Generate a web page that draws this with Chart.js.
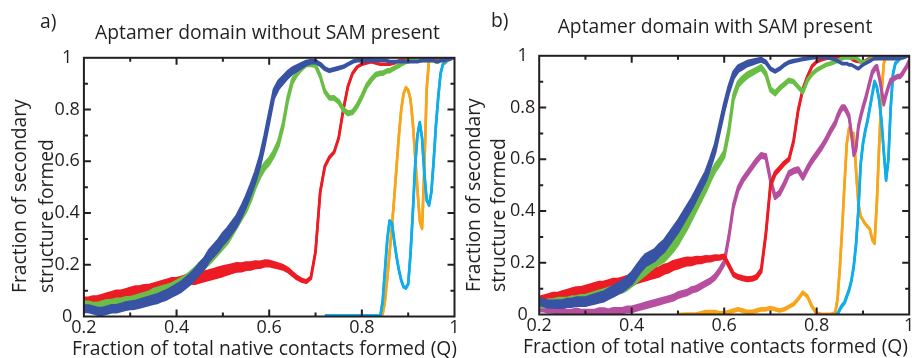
<!DOCTYPE html>
<html>
<head>
<meta charset="utf-8">
<script src="https://cdn.jsdelivr.net/npm/chart.js@4.4.1/dist/chart.umd.min.js"></script>
<style>
  html, body { margin: 0; padding: 0; background: #fff; }
  #wrap { position: relative; width: 912px; height: 358px; overflow: hidden;
          font-family: "Open Sans", sans-serif; color: #231f20; }
  canvas { position: absolute; top: 0; }
  #chartA { left: 0; }
  #chartB { left: 456px; }
  .lbl { position: absolute; font-size: 19.3px; line-height: 19px; white-space: nowrap; }
  .center { transform: translateX(-50%); }
  .ytitle { transform-origin: 0 0; transform: rotate(-90deg); }
</style>
</head>
<body>
<div id="wrap">
  <canvas id="chartA" width="470" height="358"></canvas>
  <canvas id="chartB" width="456" height="358"></canvas>

  <div class="lbl" style="left:40px; top:11px">a)</div>
  <div class="lbl center" style="left:267.5px; top:22.4px">Aptamer domain without SAM present</div>
  <div class="lbl ytitle" style="left:5.9px; top:293.3px; line-height:26.5px">Fraction of secondary<br>structure formed</div>
  <div class="lbl center" style="left:264.5px; top:338px">Fraction of total native contacts formed (Q)</div>

  <div class="lbl" style="left:491px; top:10px">b)</div>
  <div class="lbl center" style="left:715px; top:16.4px">Aptamer domain with SAM present</div>
  <div class="lbl ytitle" style="left:460px; top:292px; line-height:25px">Fraction of secondary<br>structure formed</div>
  <div class="lbl center" style="left:715.5px; top:336.4px">Fraction of total native contacts formed (Q)</div>
</div>

<script>
// Q grid: 0.20..0.84 every 0.01, then 0.845..1.00 every 0.005
const qGrid = [];
for (let i = 20; i <= 84; i++) qGrid.push(i / 100);
for (let i = 1690; i <= 2000; i += 10) qGrid.push(i / 2000);

// ---- panel a) without SAM ----
const aBlue = [
  0.03, 0.03, 0.025, 0.02, 0.02, 0.025, 0.03, 0.03, 0.035, 0.04,
  0.043, 0.045, 0.05, 0.055, 0.06, 0.065, 0.07, 0.078, 0.085, 0.095,
  0.105, 0.115, 0.13, 0.145, 0.165, 0.185, 0.205, 0.235, 0.255, 0.275,
  0.30, 0.32, 0.345, 0.37, 0.405, 0.445, 0.49, 0.54, 0.60, 0.68,
  0.77, 0.86, 0.895, 0.915, 0.935, 0.95, 0.96, 0.97, 0.98, 0.985,
  0.985, 0.975, 0.958, 0.95, 0.955, 0.96, 0.965, 0.975, 0.985, 0.99,
  0.99, 0.99, 0.99, 0.99, 0.99,
  0.99, 0.99, 0.988, 0.985, 0.985, 0.985, 0.985, 0.985, 0.985, 0.985, 0.985, 0.985,
  0.985, 0.985, 0.985, 0.985, 0.988, 0.99, 0.99, 0.99, 0.99, 0.99,
  0.99, 0.985, 0.985, 0.99, 0.99, 0.99, 0.995, 0.995, 1, 1
];
const aGreen = [
  0.045, 0.045, 0.04, 0.04, 0.045, 0.05, 0.05, 0.055, 0.055, 0.06,
  0.06, 0.065, 0.07, 0.075, 0.08, 0.09, 0.095, 0.10, 0.105, 0.11,
  0.12, 0.13, 0.14, 0.155, 0.17, 0.19, 0.205, 0.22, 0.24, 0.26,
  0.28, 0.30, 0.33, 0.36, 0.39, 0.42, 0.46, 0.51, 0.55, 0.58,
  0.60, 0.63, 0.67, 0.74, 0.84, 0.91, 0.94, 0.96, 0.975, 0.975,
  0.97, 0.93, 0.87, 0.845, 0.845, 0.83, 0.80, 0.785, 0.79, 0.815,
  0.85, 0.89, 0.915, 0.935, 0.94,
  0.94, 0.945, 0.95, 0.95, 0.955, 0.96, 0.965, 0.97, 0.975, 0.98, 0.985, 0.985,
  0.99, 0.99, 0.99, 0.99, 0.99, 0.99, 0.99, 0.99, 0.99, 0.99,
  0.99, 0.985, 0.985, 0.99, 0.99, 0.99, 0.995, 0.995, 1, 1
];
const aRed = [
  0.06, 0.06, 0.065, 0.065, 0.07, 0.075, 0.08, 0.085, 0.085, 0.09,
  0.095, 0.10, 0.10, 0.105, 0.105, 0.11, 0.115, 0.12, 0.125, 0.13,
  0.13, 0.135, 0.14, 0.145, 0.145, 0.15, 0.155, 0.16, 0.165, 0.17,
  0.175, 0.18, 0.185, 0.19, 0.19, 0.195, 0.195, 0.20, 0.20, 0.205,
  0.205, 0.20, 0.195, 0.19, 0.18, 0.165, 0.15, 0.14, 0.135, 0.15,
  0.25, 0.48, 0.58, 0.615, 0.635, 0.69, 0.80, 0.89, 0.94, 0.965,
  0.975, 0.98, 0.985, 0.98, 0.975,
  0.975, 0.975, 0.975, 0.975, 0.978, 0.98, 0.985, 0.988, 0.99, 0.99, 0.99, 0.99,
  0.99, 0.99, 0.99, 0.99, 0.99, 0.99, 0.99, 0.99, 0.99, 0.99,
  0.99, 0.99, 0.99, 0.99, 0.99, 0.99, 0.995, 0.995, 1, 1
];
const aOrange = [
  null, null, null, null, null, null, null, null, null, null,
  null, null, null, null, null, null, null, null, null, null,
  null, null, null, null, null, null, null, null, null, null,
  null, null, null, null, null, null, null, null, null, null,
  null, null, null, null, null, null, null, null, null, null,
  null, null, null, null, null, null, null, null, null, null,
  null, null, null, null, 0,
  0.01, 0.06, 0.15, 0.25, 0.35, 0.46, 0.58, 0.70, 0.80, 0.86, 0.885, 0.875,
  0.84, 0.75, 0.62, 0.49, 0.37, 0.34, 0.58, 0.88, 0.99, 1,
  1, 1, 1, 1, 0.99, 0.98, 0.99, 0.995, 1, 1
];
const aCyan = [
  null, null, null, null, null, null, null, null, null, null,
  null, null, null, null, null, null, null, null, null, null,
  null, null, null, null, null, null, null, null, null, null,
  null, null, null, null, null, null, null, null, null, null,
  null, null, null, null, null, null, null, null, null, null,
  null, null, 0.003, 0.003, 0.003, 0.003, 0.003, 0.003, 0.003, 0.003,
  0.003, 0.003, 0.003, 0.003, 0.003,
  0.06, 0.18, 0.30, 0.37, 0.36, 0.29, 0.23, 0.18, 0.14, 0.115, 0.11, 0.125,
  0.24, 0.40, 0.58, 0.70, 0.75, 0.69, 0.55, 0.45, 0.43, 0.48,
  0.60, 0.74, 0.85, 0.94, 0.975, 0.985, 0.99, 0.995, 1, 1
];

// ---- panel b) with SAM ----
const bBlue = [
  0.05, 0.045, 0.04, 0.04, 0.04, 0.04, 0.045, 0.045, 0.05, 0.05,
  0.05, 0.055, 0.06, 0.065, 0.07, 0.08, 0.09, 0.10, 0.11, 0.125,
  0.14, 0.165, 0.19, 0.21, 0.22, 0.23, 0.25, 0.265, 0.29, 0.315,
  0.34, 0.37, 0.40, 0.43, 0.465, 0.50, 0.535, 0.585, 0.64, 0.72,
  0.80, 0.87, 0.925, 0.95, 0.96, 0.97, 0.975, 0.98, 0.985, 0.975,
  0.95, 0.94, 0.95, 0.965, 0.975, 0.98, 0.983, 0.987, 0.99, 0.993,
  0.995, 0.995, 0.995, 0.99, 0.985,
  0.98, 0.975, 0.97, 0.97, 0.97, 0.965, 0.965, 0.96, 0.955, 0.95, 0.958, 0.965,
  0.97, 0.975, 0.98, 0.985, 0.99, 0.99, 0.99, 0.99, 0.99, 0.99,
  0.99, 0.99, 0.99, 0.99, 0.99, 0.99, 0.995, 0.995, 1, 1
];
const bGreen = [
  0.04, 0.04, 0.045, 0.045, 0.05, 0.05, 0.05, 0.055, 0.055, 0.06,
  0.06, 0.065, 0.07, 0.075, 0.08, 0.085, 0.09, 0.10, 0.105, 0.115,
  0.13, 0.145, 0.16, 0.175, 0.19, 0.205, 0.215, 0.225, 0.245, 0.265,
  0.29, 0.32, 0.35, 0.385, 0.42, 0.455, 0.49, 0.53, 0.565, 0.59,
  0.62, 0.71, 0.84, 0.89, 0.91, 0.925, 0.935, 0.945, 0.955, 0.93,
  0.87, 0.855, 0.875, 0.89, 0.905, 0.90, 0.88, 0.86, 0.905, 0.93,
  0.945, 0.955, 0.965, 0.97, 0.977,
  0.98, 0.985, 0.99, 0.993, 0.993, 0.993, 0.993, 0.993, 0.993, 0.985, 0.978, 0.975,
  0.978, 0.98, 0.985, 0.99, 0.99, 0.99, 0.99, 0.99, 0.99, 0.99,
  0.99, 0.99, 0.99, 0.99, 0.99, 0.99, 0.995, 0.995, 1, 1
];
const bRed = [
  0.055, 0.06, 0.065, 0.07, 0.07, 0.075, 0.08, 0.085, 0.09, 0.09,
  0.095, 0.10, 0.105, 0.11, 0.11, 0.115, 0.12, 0.12, 0.125, 0.13,
  0.13, 0.14, 0.145, 0.15, 0.155, 0.16, 0.165, 0.175, 0.18, 0.19,
  0.195, 0.20, 0.205, 0.205, 0.21, 0.21, 0.215, 0.215, 0.22, 0.22,
  0.225, 0.19, 0.155, 0.145, 0.14, 0.136, 0.138, 0.145, 0.17, 0.31,
  0.50, 0.545, 0.565, 0.585, 0.60, 0.67, 0.79, 0.87, 0.92, 0.96,
  0.977, 0.985, 0.99, 0.993, 0.993,
  0.995, 0.995, 0.995, 0.995, 0.995, 0.995, 0.99, 0.983, 0.98, 0.978, 0.977, 0.977,
  0.98, 0.985, 0.99, 0.99, 0.99, 0.99, 0.99, 0.99, 0.99, 0.99,
  0.99, 0.99, 0.99, 0.99, 0.99, 0.99, 0.995, 0.995, 1, 1
];
const bMagenta = [
  0.02, 0.02, 0.015, 0.015, 0.01, 0.015, 0.01, 0.01, 0.015, 0.01,
  0.01, 0.01, 0.01, 0.015, 0.015, 0.01, 0.015, 0.015, 0.015, 0.02,
  0.02, 0.025, 0.03, 0.035, 0.04, 0.045, 0.05, 0.055, 0.06, 0.065,
  0.075, 0.08, 0.085, 0.095, 0.10, 0.11, 0.12, 0.13, 0.145, 0.17,
  0.20, 0.30, 0.42, 0.485, 0.52, 0.545, 0.57, 0.595, 0.615, 0.61,
  0.52, 0.455, 0.47, 0.505, 0.545, 0.555, 0.56, 0.53, 0.565, 0.595,
  0.62, 0.645, 0.675, 0.71, 0.74,
  0.765, 0.785, 0.80, 0.80, 0.785, 0.765, 0.70, 0.62, 0.64, 0.725, 0.765, 0.80,
  0.83, 0.865, 0.90, 0.935, 0.95, 0.958, 0.92, 0.87, 0.815, 0.85,
  0.88, 0.905, 0.91, 0.915, 0.92, 0.92, 0.93, 0.945, 0.96, 0.98
];
const bOrange = [
  null, null, null, null, null, null, null, null, null, null,
  null, null, null, null, null, null, null, null, null, null,
  null, null, null, null, null, null, null, null, null, null,
  0, 0, 0, 0, 0, 0.005, 0.01, 0.01, 0.01, 0.005,
  0.005, 0.01, 0.015, 0.02, 0.015, 0.01, 0.01, 0.015, 0.02, 0.02,
  0.025, 0.02, 0.015, 0.02, 0.03, 0.04, 0.06, 0.085, 0.07, 0.03,
  0.005, 0, 0, 0, 0.005,
  0.06, 0.18, 0.33, 0.50, 0.66, 0.72, 0.70, 0.70, 0.56, 0.43, 0.38, 0.365,
  0.35, 0.34, 0.33, 0.29, 0.275, 0.43, 0.65, 0.85, 0.97, 1,
  1, 1, 1, 1, 1, 1, 1, 1, 1, 1
];
const bCyan = [
  null, null, null, null, null, null, null, null, null, null,
  null, null, null, null, null, null, null, null, null, null,
  null, null, null, null, null, null, null, null, null, null,
  null, null, null, null, null, null, null, null, null, null,
  null, null, null, null, null, null, null, null, null, null,
  null, null, null, null, null, null, null, null, null, null,
  null, null, null, null, 0,
  0, 0.02, 0.035, 0.045, 0.07, 0.095, 0.13, 0.185, 0.27, 0.40, 0.58, 0.66,
  0.71, 0.75, 0.80, 0.85, 0.90, 0.88, 0.83, 0.75, 0.63, 0.52,
  0.60, 0.80, 0.93, 0.97, 0.98, 0.99, 0.99, 0.995, 1, 1
];

// half-width of the noisy trace, at Q = 0.2, 0.3, ... 1.0
const aBlueNoise   = [0.012, 0.014, 0.018, 0.022, 0.018, 0.005, 0.003, 0.002, 0.002];
const aGreenNoise  = [0.012, 0.014, 0.018, 0.018, 0.012, 0.005, 0.007, 0.004, 0.002];
const aRedNoise    = [0.012, 0.015, 0.018, 0.018, 0.01, 0.003, 0.002, 0.002, 0.002];
const aOrangeNoise = [0.002, 0.002, 0.002, 0.002, 0.002, 0.002, 0.002, 0.002, 0.002];
const aCyanNoise   = [0.002, 0.002, 0.002, 0.002, 0.002, 0.002, 0.002, 0.002, 0.002];
const bBlueNoise   = [0.012, 0.016, 0.022, 0.022, 0.015, 0.004, 0.003, 0.002, 0.002];
const bGreenNoise  = [0.012, 0.015, 0.02, 0.02, 0.012, 0.007, 0.004, 0.003, 0.002];
const bRedNoise    = [0.012, 0.015, 0.018, 0.016, 0.006, 0.007, 0.002, 0.002, 0.002];
const bMagentaNoise= [0.007, 0.007, 0.01, 0.01, 0.008, 0.008, 0.008, 0.007, 0.005];
const bOrangeNoise = [0.003, 0.003, 0.003, 0.003, 0.004, 0.004, 0.003, 0.002, 0.002];
const bCyanNoise   = [0.002, 0.002, 0.002, 0.002, 0.002, 0.002, 0.002, 0.004, 0.002];

const COLORS = {
    red: '#ed1c24',
    green: '#6abd45',
    blue: '#3953a4',
    orange: '#f9a51a',
    cyan: '#0fadea',
    magenta: '#b64f9f'
};
const TEXT = '#231f20';
Chart.defaults.font.family = '"Open Sans", sans-serif';

function noiseAt(noise, q) {
    const t = (q - 0.2) / 0.1;
    const i = Math.max(0, Math.min(Math.floor(t), noise.length - 2));
    const f = t - i;
    return noise[i] * (1 - f) + noise[i + 1] * f;
}

// each trace is drawn as a filled band (lower edge + upper edge)
function band(values, noise, color, order) {
    const lo = [], hi = [];
    qGrid.forEach((q, i) => {
        const v = values[i];
        const s = noiseAt(noise, q);
        lo.push({ x: q, y: v === null ? null : v - s });
        hi.push({ x: q, y: v === null ? null : v + s });
    });
    const base = {
        borderColor: color,
        backgroundColor: color,
        borderWidth: 2.6,
        borderJoinStyle: 'round',
        pointRadius: 0,
        tension: 0,
        order
    };
    return [
        { ...base, data: lo, fill: false },
        { ...base, data: hi, fill: '-1' }
    ];
}

// frame with inward ticks on all four sides
const frameTicks = {
    id: 'frameTicks',
    afterDatasetsDraw(chart) {
        const { ctx, chartArea: a, scales: { x, y } } = chart;
        ctx.save();
        ctx.strokeStyle = TEXT;
        ctx.lineWidth = 2;
        ctx.beginPath();
        for (let i = 1; i < 8; i++) {
            const px = x.getPixelForValue(0.2 + i * 0.1);
            const len = i % 2 === 0 ? 7 : 4;
            ctx.moveTo(px, a.bottom); ctx.lineTo(px, a.bottom - len);
            ctx.moveTo(px, a.top); ctx.lineTo(px, a.top + len);
        }
        for (let i = 1; i < 10; i++) {
            const py = y.getPixelForValue(i * 0.1);
            const len = i % 2 === 0 ? 7 : 4;
            ctx.moveTo(a.left, py); ctx.lineTo(a.left + len, py);
            ctx.moveTo(a.right, py); ctx.lineTo(a.right - len, py);
        }
        ctx.stroke();
        ctx.strokeRect(a.left, a.top, a.right - a.left, a.bottom - a.top);
        ctx.restore();
    }
};

const fmt = v => String(Number(v.toFixed(2)));

function makeChart(id, datasets, g) {
    const tickFont = { size: 18 };
    return new Chart(document.getElementById(id), {
        type: 'line',
        data: { datasets },
        options: {
            responsive: false,
            animation: false,
            events: [],
            layout: { padding: { left: 0, right: g.padRight, top: g.top, bottom: 0 } },
            plugins: { legend: { display: false }, tooltip: { enabled: false } },
            scales: {
                x: {
                    type: 'linear', min: 0.2, max: 1,
                    grid: { display: false, drawTicks: false },
                    border: { display: false },
                    ticks: { stepSize: 0.2, padding: 1, color: TEXT, font: tickFont, maxRotation: 0, autoSkip: false, callback: fmt },
                    afterFit: s => { s.height = g.xHeight; s.paddingLeft = 0; s.paddingRight = 0; }
                },
                y: {
                    min: 0, max: 1,
                    grid: { display: false, drawTicks: false },
                    border: { display: false },
                    ticks: { stepSize: 0.2, padding: 4, crossAlign: 'center', color: TEXT, font: tickFont, callback: fmt },
                    afterFit: s => { s.width = g.yWidth; s.paddingTop = 0; s.paddingBottom = 0; }
                }
            }
        },
        plugins: [frameTicks]
    });
}

makeChart('chartA', [
    ...band(aBlue, aBlueNoise, COLORS.blue, 1),
    ...band(aGreen, aGreenNoise, COLORS.green, 2),
    ...band(aRed, aRedNoise, COLORS.red, 3),
    ...band(aCyan, aCyanNoise, COLORS.cyan, 4),
    ...band(aOrange, aOrangeNoise, COLORS.orange, 5)
], { top: 57.8, padRight: 15.5, xHeight: 41.5, yWidth: 83.9 });

makeChart('chartB', [
    ...band(bBlue, bBlueNoise, COLORS.blue, 1),
    ...band(bGreen, bGreenNoise, COLORS.green, 2),
    ...band(bRed, bRedNoise, COLORS.red, 3),
    ...band(bMagenta, bMagentaNoise, COLORS.magenta, 4),
    ...band(bCyan, bCyanNoise, COLORS.cyan, 5),
    ...band(bOrange, bOrangeNoise, COLORS.orange, 6)
], { top: 55.8, padRight: 2.8, xHeight: 43.5, yWidth: 83.2 });
</script>
</body>
</html>
